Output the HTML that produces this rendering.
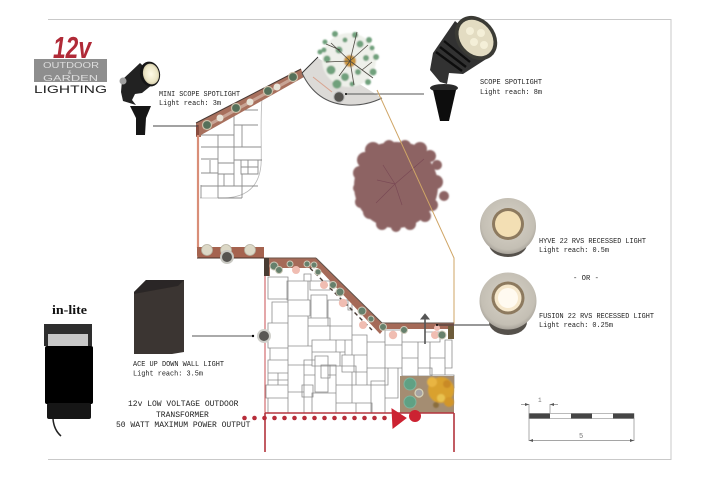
<!DOCTYPE html>
<html><head><meta charset="utf-8"><style>
html,body{margin:0;padding:0;background:#fff}
svg{display:block}
text{font-family:"Liberation Mono",monospace;fill:#222}
</style></head><body>
<svg width="720" height="480" viewBox="0 0 720 480" xmlns="http://www.w3.org/2000/svg">
<defs>
<filter id="b" x="-5%" y="-5%" width="110%" height="110%"><feGaussianBlur stdDeviation="0.35"/></filter>
<filter id="b2" x="-10%" y="-10%" width="120%" height="120%"><feGaussianBlur stdDeviation="0.7"/></filter>
<radialGradient id="lens" cx="50%" cy="50%" r="55%"><stop offset="0" stop-color="#fffbe8"/><stop offset=".7" stop-color="#ece6c6"/><stop offset="1" stop-color="#c5bd9c"/></radialGradient>
<radialGradient id="steel" cx="50%" cy="45%" r="55%"><stop offset="0" stop-color="#d8d3c8"/><stop offset=".85" stop-color="#c4bfb4"/><stop offset="1" stop-color="#a8a39a"/></radialGradient>
</defs>
<g filter="url(#b)">
<path d="M48 19.5H671V459.5H48" fill="none" stroke="#c9c9c9" stroke-width="1"/>

<!-- logo box -->
<rect x="34" y="59" width="73" height="23" fill="#8e8e8e"/>

<!-- mini scope spotlight -->
<path d="M122 80 L140 63 L158 80 L142 93 L135 94 L132 100 L136 105 L123 101 L121 92Z" fill="#232323"/>
<circle cx="123" cy="81" r="3.5" fill="#a0a0a0"/>
<path d="M130 106 H151 L146 118 L145 135 H136 L136 118Z" fill="#161616"/>
<ellipse cx="150" cy="74" rx="10" ry="12.500" transform="rotate(-12 150 74)" fill="#141414"/>
<ellipse cx="151" cy="74" rx="8" ry="10.500" transform="rotate(-12 151 74)" fill="url(#lens)"/>

<!-- scope spotlight -->
<path d="M433 53 L455 21 L494 54 L463 74 L449 73 L447 84 L440 82 L430 70Z" fill="#323232"/>
<path d="M436 52 L462 71 M440 47 L466 67 M444 41 L470 62" stroke="#0f0f0f" stroke-width="2.400"/>
<ellipse cx="476" cy="38" rx="19" ry="24" transform="rotate(-40 476 38)" fill="#3a3a36"/>
<ellipse cx="476" cy="38" rx="15.500" ry="20" transform="rotate(-40 476 38)" fill="#e3dcc2"/>
<g fill="#f4efd8"><circle cx="470" cy="31" r="4"/><circle cx="481" cy="33" r="4"/><circle cx="474" cy="42" r="4"/><circle cx="484" cy="45" r="4"/></g>
<ellipse cx="444" cy="88" rx="14" ry="4" fill="#2c2c2c"/>
<path d="M433 90 H456 L449 121 H440Z" fill="#111"/>

<!-- upper patio -->
<path d="M200 132 L262 100 L261 165 Q258 198 222 198 H200Z" fill="#fff"/>
<path d="M262 98 C260 125 262 150 261 165 Q258 198 222 198 H200" fill="none" stroke="#b5b5b5" stroke-width=".8"/>
<path d="M201 135H234V147H201M218 135V147M234 125V147H258M234 125H258M234 110V125M242 110H258M242 125V147M218 147V198M201 147H261M201 159H218M201 173H218M201 186H218M218 163H234V186H218M234 147V174M234 160H262M241 160V174H258V160M248 160V174M241 167H258M218 174H234M218 186H258M224 174V186M242 174V198M218 198H242M201 185V198M210 160V173" fill="none" stroke="#808080" stroke-width=".9" opacity=".9"/>

<!-- diagonal planter -->
<path d="M196 123 L301 69 L304 77 L201 135 L201 137 H196Z" fill="#a86f5d"/>
<path d="M196 123 L301 69" stroke="#4a3a34" stroke-width="1"/>
<path d="M203 128 L290 80" stroke="#f0e6da" stroke-width="3" opacity=".45"/>
<g fill="#55705a" stroke="#cbbfa8" stroke-width="1.200">
<circle cx="207" cy="125" r="4.500"/><circle cx="236" cy="108" r="4.500"/><circle cx="268" cy="91" r="4.500"/><circle cx="293" cy="77" r="4.500"/>
</g>
<g fill="#e8e4d8"><circle cx="220" cy="118" r="3.500"/><circle cx="250" cy="102" r="3.500"/><circle cx="277" cy="87" r="3.500"/></g>
<rect x="196" y="125" width="3" height="11" fill="#8a4d3f"/>

<!-- sector + tree -->
<path d="M302 73 L318 58 L382 98 Q366 106 347 105 Q316 103 302 73Z" fill="#dcdad7"/>
<path d="M302 73 Q316 103 347 105 Q366 106 382 98" fill="none" stroke="#555" stroke-width="1"/>
<path d="M302 73 L318 57" stroke="#333" stroke-width="1"/>
<path d="M313 77 L332 92" stroke="#d8a38f" stroke-width="1"/>
<g filter="url(#b2)">
<circle cx="349" cy="60" r="27" fill="#eef0ea"/>
<g fill="#6fa07c">
<circle cx="335" cy="34" r="3"/><circle cx="355" cy="35" r="3"/><circle cx="325" cy="42" r="2.500"/><circle cx="369" cy="40" r="3"/>
<circle cx="320" cy="52" r="2.500"/><circle cx="376" cy="57" r="3"/><circle cx="331" cy="70" r="4.500"/><circle cx="337" cy="84" r="4.500"/>
<circle cx="345" cy="77" r="4"/><circle cx="373" cy="72" r="3.500"/><circle cx="368" cy="82" r="3"/><circle cx="339" cy="50" r="3.500"/><circle cx="360" cy="44" r="3.500"/><circle cx="327" cy="59" r="3.500"/>
<circle cx="366" cy="58" r="3"/><circle cx="345" cy="40" r="2.500"/><circle cx="358" cy="72" r="3"/><circle cx="324" cy="50" r="2.500"/><circle cx="372" cy="48" r="2.500"/><circle cx="352" cy="84" r="2.500"/>
</g>
<circle cx="350" cy="61" r="6" fill="#c9943b"/>
</g>
<path d="M350 61 L331 43 M350 61 L357 32 M350 61 L373 78 M350 61 L339 76 M350 61 L326 62 M350 61 L368 45 M350 61 L354 85 M340 50 L326 44 M362 70 L372 62" stroke="#4e4a42" stroke-width=".8"/>
<circle cx="339" cy="97" r="5.200" fill="#55534f" stroke="#bbb" stroke-width="1"/>
<path d="M345 94H424" stroke="#555" stroke-width="1"/><circle cx="346" cy="94" r="1" fill="#000"/>
<path d="M153 126H198" stroke="#444" stroke-width="1"/>

<!-- leaf tree -->
<g filter="url(#b2)" fill="#8d6463">
<circle cx="396" cy="186" r="42"/>
<ellipse cx="396" cy="155" rx="30" ry="13"/>
<circle cx="373" cy="150" r="8"/><circle cx="389" cy="146" r="6"/><circle cx="405" cy="146" r="6"/><circle cx="420" cy="149" r="7"/><circle cx="365" cy="160" r="8"/><circle cx="360" cy="173" r="7"/>
<circle cx="358" cy="188" r="5"/><circle cx="361" cy="202" r="6"/><circle cx="370" cy="212" r="7"/><circle cx="382" cy="224" r="6"/><circle cx="396" cy="227" r="5"/>
<circle cx="410" cy="224" r="6"/><circle cx="425" cy="216" r="6"/><circle cx="432" cy="205" r="6"/><circle cx="444" cy="196" r="5"/><circle cx="436" cy="182" r="7"/><circle cx="437" cy="165" r="5"/><circle cx="430" cy="156" r="6"/>
</g>
<path d="M395 184 L424 159 M395 184 L383 165 M395 184 L377 180 M395 184 L402 205 M395 184 L376 203" stroke="#7a4a55" stroke-width=".7" fill="none"/>

<!-- orange boundary -->
<path d="M377 90 L454 258 V324" fill="none" stroke="#cfa566" stroke-width="1"/>

<!-- left red line and strip -->
<path d="M198 135 V248" stroke="#d98e78" stroke-width="2.200"/>
<path d="M197 247 H264 V258 H199 Q197 258 197 255Z" fill="#a5634f"/>
<path d="M197 258 H264" stroke="#4a3029" stroke-width="1"/>
<g fill="#dcd8c6" stroke="#b5b1a0" stroke-width=".8"><circle cx="207" cy="250" r="5.500"/><circle cx="226" cy="250" r="5.500"/><circle cx="250" cy="250" r="5.500"/></g>
<circle cx="227" cy="257" r="7" fill="#c8c8c2"/><circle cx="227" cy="257" r="5" fill="#54524f"/>

<!-- lower patio pavers -->
<path d="M265 258 H316 L382 325 H454 V413 H265Z" fill="#fff"/>
<path d="M268 277H288V299H268ZM287 281H308V300H287ZM272 302H288V323H272ZM288 300H310V316H288ZM288 316H308V346H288ZM310 281H330V290H310ZM304 274H311V281H304ZM311 295H327V318H311ZM308 318H330V326H308ZM268 323H288V348H268ZM270 348H288V360H270ZM268 360H288V380H268ZM268 373H278V385H268ZM278 373H288V385H278ZM288 346H312V365H288ZM312 340H336V352H312ZM336 340H345V352H336ZM312 352H340V366H312ZM288 365H304V392H288ZM304 360H315V375H304ZM315 356H328V392H315ZM328 365H336V375H328ZM321 365H330V378H321ZM330 326H352V340H330ZM328 300H352V326H328ZM345 340H352V355H345ZM352 335H367V355H352ZM342 355H354V372H342ZM336 366H356V385H336ZM302 385H313V397H302ZM266 385H288V398H266ZM268 398H288V413H268ZM288 392H304V413H288ZM304 397H312V413H304ZM312 393H336V413H312ZM336 385H352V403H336ZM352 385H371V403H352ZM352 372H367V385H352ZM367 368H388V385H367ZM356 403H372V413H356ZM371 381H385V413H371ZM385 368H398V398H385ZM367 342H385V368H367ZM385 345H402V368H385ZM402 342H418V358H402ZM418 342H430V368H418ZM402 358H418V376H402ZM430 358H445V375H430ZM445 340H452V368H445ZM418 368H432V376H418ZM432 375H454V388H432ZM348 300H352V310H348ZM385 330H402V345H385ZM402 328H425V342H402ZM425 332H440V342H425Z" fill="none" stroke="#808080" stroke-width=".8" opacity=".9"/>
<path d="M265 258 V413" stroke="#c94f52" stroke-width="1"/>

<!-- lower planter -->
<path d="M264 258 H316 L382 323 H454 V329 H384 L380 334 L318 268 H270 V276 H264Z" fill="#a56a58"/>
<path d="M316 258 L382 323 H454" fill="none" stroke="#5f534c" stroke-width="1"/>
<path d="M264 258 H316" stroke="#6d5448" stroke-width="1"/>
<path d="M310 268 L372 330" stroke="#4a3a34" stroke-width="1.400" stroke-dasharray="4 3"/>
<rect x="264" y="258" width="5" height="18" fill="#4a3a30"/>
<g fill="#f0bdb2">
<circle cx="296" cy="270" r="4"/><circle cx="324" cy="285" r="4"/><circle cx="343" cy="303" r="4.200"/><circle cx="363" cy="325" r="4"/><circle cx="393" cy="335" r="4.200"/><circle cx="435" cy="335" r="4"/><circle cx="437" cy="328" r="3"/>
</g>
<g fill="#66806c" stroke="#ccc9b8" stroke-width="1">
<circle cx="274" cy="266" r="4"/><circle cx="279" cy="270" r="3.500"/><circle cx="290" cy="264" r="3"/><circle cx="307" cy="264" r="3"/><circle cx="314" cy="265" r="3"/>
<circle cx="318" cy="272" r="3"/><circle cx="333" cy="285" r="3.500"/><circle cx="340" cy="292" r="4"/><circle cx="362" cy="311" r="4"/><circle cx="371" cy="319" r="3"/>
<circle cx="383" cy="327" r="3.500"/><circle cx="404" cy="330" r="3.500"/><circle cx="442" cy="335" r="4"/>
</g>
<rect x="448" y="326" width="6" height="13" fill="#6d5c3a"/>
<path d="M425 344 V319" stroke="#555" stroke-width="1.600"/><path d="M421 319 L425 314 L429 319Z" fill="#555" stroke="#555"/>
<path d="M437 325 H490" stroke="#333" stroke-width="1"/><circle cx="437" cy="325" r="1" fill="#000"/>

<!-- brown bed -->
<rect x="400" y="376" width="54" height="37" fill="#a48d72"/>
<g filter="url(#b2)">
<circle cx="441" cy="390" r="13" fill="#d9a12f"/><circle cx="432" cy="382" r="5" fill="#e9b542"/><circle cx="449" cy="402" r="5" fill="#d2962a"/><circle cx="441" cy="398" r="4" fill="#e8c24f"/><circle cx="436" cy="405" r="3" fill="#8a6d3e"/><circle cx="447" cy="384" r="4" fill="#c98a25"/>
</g>
<circle cx="410" cy="384" r="6" fill="#5fa184" stroke="#7fb39c"/>
<circle cx="410" cy="402" r="6" fill="#5fa184" stroke="#7fb39c"/>
<circle cx="419" cy="393" r="4" fill="#a5a3a5" stroke="#d8d3b8" stroke-width="1.200"/>

<!-- bottom red -->
<path d="M265 413 H454 M265 413 V452 M454 413 V452" fill="none" stroke="#b3343e" stroke-width="1.600"/>
<g fill="#b72f3b">
<circle cx="244.500" cy="418" r="2.300"/><circle cx="254.500" cy="418" r="2.300"/><circle cx="264.500" cy="418" r="2.300"/><circle cx="274.500" cy="418" r="2.300"/><circle cx="284.500" cy="418" r="2.300"/><circle cx="294.500" cy="418" r="2.300"/><circle cx="304.500" cy="418" r="2.300"/><circle cx="314.500" cy="418" r="2.300"/><circle cx="324.500" cy="418" r="2.300"/><circle cx="334.500" cy="418" r="2.300"/><circle cx="344.500" cy="418" r="2.300"/><circle cx="354.500" cy="418" r="2.300"/><circle cx="364.500" cy="418" r="2.300"/><circle cx="374.500" cy="418" r="2.300"/><circle cx="384.500" cy="418" r="2.300"/>
</g>
<path d="M392 409 L406 418 L393 428Z" fill="#cc2230" stroke="#cc2230"/>
<circle cx="415" cy="416" r="6" fill="#cc2230"/>

<!-- wall connector -->
<circle cx="264" cy="336" r="7" fill="#cfcfca"/><circle cx="264" cy="336" r="5" fill="#5a5855"/>
<path d="M192 336 H254" stroke="#555" stroke-width="1"/><circle cx="253" cy="336" r="1.200" fill="#000"/>

<!-- wall light -->
<path d="M134 292 L146 280 H184 V352 L172 354 H134Z" fill="#3b3633"/>
<path d="M134 292 L146 280 H184 L178 286 L134 294Z" fill="#2c2826"/>

<!-- transformer -->
<rect x="44" y="324" width="48" height="22" fill="#2e2e2e"/>
<rect x="48" y="334" width="40" height="12" fill="#c8c8c8"/>
<rect x="45" y="346" width="48" height="58" rx="2" fill="#000"/>
<rect x="47" y="403" width="44" height="16" rx="2" fill="#141414"/>
<path d="M53 419 Q54 430 61 436" fill="none" stroke="#222" stroke-width="1.500"/>

<!-- recessed lights -->
<ellipse cx="508" cy="244" rx="19" ry="13" fill="#55514c"/>
<circle cx="508" cy="226" r="28" fill="url(#steel)"/>
<circle cx="508" cy="224" r="16" fill="#8d7a5e"/>
<circle cx="508" cy="224" r="13" fill="#f3dfb4"/>
<ellipse cx="508" cy="322" rx="19" ry="13" fill="#55514c"/>
<circle cx="508" cy="301" r="28.500" fill="url(#steel)"/>
<circle cx="508" cy="298" r="16.500" fill="#8d7a5e"/>
<circle cx="508" cy="298" r="13.500" fill="#f6e8cc"/>
<circle cx="508" cy="298" r="10" fill="#fffaf0"/>

<!-- scale -->
<rect x="529" y="413.500" width="105" height="5" fill="#fff" stroke="#777" stroke-width=".5"/>
<rect x="529" y="413.500" width="21" height="5" fill="#444"/><rect x="571" y="413.500" width="21" height="5" fill="#444"/><rect x="613" y="413.500" width="21" height="5" fill="#444"/>
<path d="M529 404 V441 M634 418 V441 M550 404 V413 M529 440.500 H634 M521 404.500 H529 M550 404.500 H558" fill="none" stroke="#888" stroke-width=".7"/>
<path d="M529 404.500 l-4 -1.500 v3Z M550 404.500 l4 -1.500 v3Z M529 440.500 l4 -1.500 v3Z M634 440.500 l-4 -1.500 v3Z" fill="#555"/>
</g>

<!-- logo text -->
<text x="53" y="58" style="font-family:'Liberation Sans',sans-serif;font-weight:bold;font-style:italic;font-size:31px;fill:#b02a37" textLength="38" lengthAdjust="spacingAndGlyphs">12v</text>
<text x="43" y="68" style="font-family:'Liberation Sans',sans-serif;font-size:8px;fill:#ddd" textLength="56" lengthAdjust="spacingAndGlyphs">OUTDOOR</text>
<text x="68" y="74" style="font-family:'Liberation Sans',sans-serif;font-size:5px;fill:#ddd">&amp;</text>
<text x="43" y="81" style="font-family:'Liberation Sans',sans-serif;font-size:8px;fill:#ddd" textLength="55" lengthAdjust="spacingAndGlyphs">GARDEN</text>
<text x="34" y="93" style="font-family:'Liberation Sans',sans-serif;font-size:11px;fill:#222" textLength="73" lengthAdjust="spacingAndGlyphs">LIGHTING</text>
<text x="52" y="314" style="font-family:'Liberation Serif',serif;font-weight:bold;font-size:12.500px;fill:#111" textLength="35" lengthAdjust="spacingAndGlyphs">in-lite</text>

<!-- labels -->
<text x="159" y="96" font-size="7" textLength="81" lengthAdjust="spacingAndGlyphs">MINI SCOPE SPOTLIGHT</text>
<text x="159" y="105" font-size="7" textLength="62" lengthAdjust="spacingAndGlyphs">Light reach: 3m</text>
<text x="480" y="84" font-size="7" textLength="62" lengthAdjust="spacingAndGlyphs">SCOPE SPOTLIGHT</text>
<text x="480" y="94" font-size="7" textLength="62" lengthAdjust="spacingAndGlyphs">Light reach: 8m</text>
<text x="539" y="243" font-size="7" textLength="107" lengthAdjust="spacingAndGlyphs">HYVE 22 RVS RECESSED LIGHT</text>
<text x="539" y="252" font-size="7" textLength="70" lengthAdjust="spacingAndGlyphs">Light reach: 0.5m</text>
<text x="573" y="280" font-size="7" textLength="26" lengthAdjust="spacingAndGlyphs">- OR -</text>
<text x="539" y="318" font-size="7" textLength="115" lengthAdjust="spacingAndGlyphs">FUSION 22 RVS RECESSED LIGHT</text>
<text x="539" y="327" font-size="7" textLength="74" lengthAdjust="spacingAndGlyphs">Light reach: 0.25m</text>
<text x="133" y="366" font-size="7" textLength="91" lengthAdjust="spacingAndGlyphs">ACE UP DOWN WALL LIGHT</text>
<text x="133" y="375.500" font-size="7" textLength="70" lengthAdjust="spacingAndGlyphs">Light reach: 3.5m</text>
<text x="128" y="406" font-size="8">12v LOW VOLTAGE OUTDOOR</text>
<text x="156" y="417" font-size="8">TRANSFORMER</text>
<text x="116" y="427" font-size="8">50 WATT MAXIMUM POWER OUTPUT</text>
<text x="538" y="402" font-size="6" style="fill:#777">1</text>
<text x="579" y="438" font-size="7" style="fill:#777">5</text>
</svg>
</body></html>
